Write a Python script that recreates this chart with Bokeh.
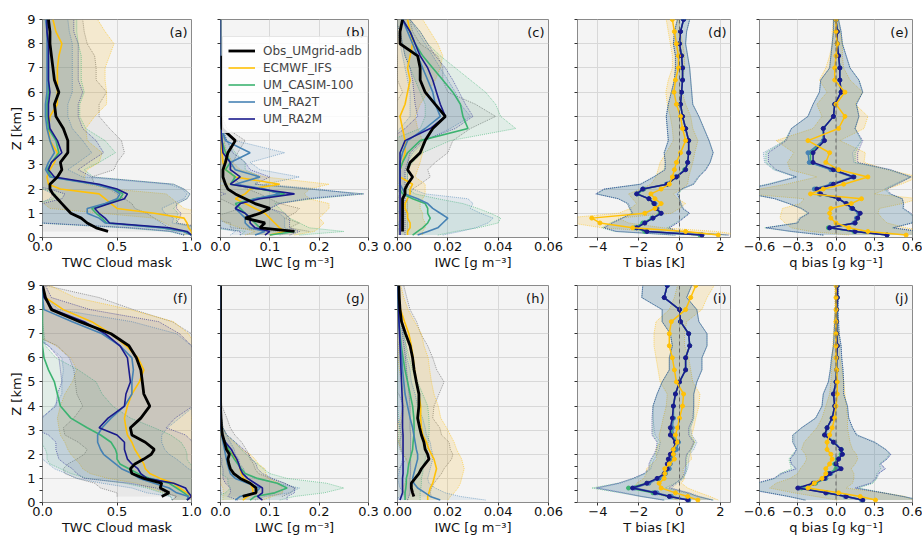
import math
from bokeh.plotting import figure
from bokeh.models import Range1d, FixedTicker, Label, Span, Legend, LegendItem
from bokeh.layouts import column, row
from bokeh.embed import file_html
from bokeh.resources import INLINE

NA = float("nan")

# heights (km)
Z = [0.1, 0.25, 0.4, 0.6, 0.8, 1.0, 1.2, 1.4, 1.6, 1.8, 2.0, 2.2, 2.5, 2.8, 3.1,
     3.5, 4.0, 4.5, 5.0, 5.5, 6.0, 6.5, 7.0, 7.5, 8.0, 8.5, 9.0]

# ---------------- (a) TWC cloud mask, row 1
a_obs = [NA, 0.44, 0.36, 0.30, 0.26, 0.19, 0.16, 0.13, 0.10, 0.07, 0.05, 0.05, 0.10, 0.13, 0.12, 0.17, 0.17, 0.14, 0.09, 0.08, 0.11, 0.08, 0.07, 0.06, 0.05, 0.05, 0.04]
a_obs_sd = [NA, 0.46, 0.49, 0.50, 0.49, 0.51, 0.46, 0.47, 0.45, 0.43, 0.40, 0.30, 0.23, 0.35, 0.38, 0.38, 0.36, 0.31, 0.29, 0.30, 0.32, 0.28, 0.29, 0.29, 0.25, 0.23, 0.23]
a_ifs = [1.0, 1.0, 0.98, 0.97, 0.95, 0.75, 0.5, 0.46, 0.42, 0.38, 0.12, 0.04, 0.03, 0.05, 0.08, 0.1, 0.05, 0.04, 0.05, 0.1, 0.1, 0.1, 0.1, 0.11, 0.13, 0.09, 0.07]
a_ifs_sd = [0.05, 0.05, 0.1, 0.15, 0.2, 0.35, 0.45, 0.45, 0.45, 0.45, 0.35, 0.25, 0.25, 0.25, 0.3, 0.3, 0.25, 0.25, 0.3, 0.33, 0.33, 0.32, 0.32, 0.34, 0.35, 0.33, 0.3]
a_casim = [1.0, 0.95, 0.8, 0.43, 0.4, 0.36, 0.33, 0.44, 0.52, 0.54, 0.48, 0.36, 0.06, 0.03, 0.06, 0.11, 0.09, 0.04, 0.03, 0.03, 0.04, 0.04, 0.04, 0.04, 0.04, 0.03, 0.03]
a_casim_sd = [0.05, 0.1, 0.25, 0.47, 0.5, 0.55, 0.55, 0.47, 0.45, 0.45, 0.47, 0.52, 0.28, 0.25, 0.32, 0.38, 0.33, 0.25, 0.22, 0.22, 0.24, 0.22, 0.22, 0.22, 0.2, 0.2, 0.2]
a_ra2t = [1.0, 0.95, 0.8, 0.42, 0.38, 0.3, 0.3, 0.42, 0.5, 0.52, 0.47, 0.35, 0.05, 0.02, 0.04, 0.08, 0.05, 0.03, 0.02, 0.02, 0.03, 0.03, 0.03, 0.03, 0.03, 0.03, 0.02]
a_ra2t_sd = [0.05, 0.1, 0.25, 0.45, 0.5, 0.52, 0.5, 0.45, 0.45, 0.45, 0.47, 0.5, 0.22, 0.15, 0.2, 0.25, 0.22, 0.17, 0.15, 0.15, 0.17, 0.17, 0.17, 0.17, 0.17, 0.15, 0.15]
a_ra2m = [1.0, 0.97, 0.85, 0.45, 0.42, 0.38, 0.35, 0.45, 0.55, 0.57, 0.5, 0.38, 0.08, 0.04, 0.06, 0.13, 0.1, 0.05, 0.04, 0.04, 0.05, 0.04, 0.04, 0.04, 0.04, 0.03, 0.03]
a_ra2m_sd = [0.05, 0.1, 0.25, 0.45, 0.5, 0.55, 0.55, 0.45, 0.42, 0.42, 0.45, 0.5, 0.25, 0.2, 0.25, 0.28, 0.26, 0.22, 0.2, 0.2, 0.22, 0.2, 0.2, 0.2, 0.2, 0.18, 0.18]

# ---------------- (b) LWC, row 1
b_obs = [NA, 0.15, 0.08, 0.09, 0.05, 0.08, 0.1, 0.07, 0.05, 0.03, 0.015, 0.01, 0.005, 0.005, 0.01, 0.015, 0.03, 0.003, 0.0, 0.0, 0.0, 0.0, 0.0, 0.0, NA, NA, NA]
b_obs_sd = [NA, 0.03, 0.06, 0.07, 0.08, 0.07, 0.06, 0.05, 0.05, 0.05, 0.04, 0.03, 0.02, 0.015, 0.015, 0.02, 0.02, 0.01, 0.002, 0.0, 0.0, 0.0, 0.0, 0.0, NA, NA, NA]
b_ifs = [0.1, 0.13, 0.12, 0.11, 0.1, 0.09, 0.07, 0.05, 0.03, 0.05, 0.06, 0.12, 0.03, 0.01, 0.005, 0.003, 0.002, 0.001, 0.0, 0.0, 0.0, 0.0, 0.0, 0.0, 0.0, 0.0, 0.0]
b_ifs_sd = [0.05, 0.06, 0.08, 0.1, 0.1, 0.12, 0.15, 0.17, 0.15, 0.12, 0.12, 0.1, 0.06, 0.03, 0.02, 0.01, 0.005, 0.003, 0.0, 0.0, 0.0, 0.0, 0.0, 0.0, 0.0, 0.0, 0.0]
b_casim = [0.1, 0.15, 0.08, 0.07, 0.06, 0.05, 0.04, 0.03, 0.07, 0.13, 0.08, 0.02, 0.03, 0.01, 0.02, 0.01, 0.003, 0.001, 0.0, 0.0, 0.0, 0.0, 0.0, 0.0, 0.0, 0.0, 0.0]
b_casim_sd = [0.06, 0.1, 0.1, 0.09, 0.08, 0.08, 0.08, 0.08, 0.12, 0.16, 0.1, 0.05, 0.05, 0.04, 0.03, 0.02, 0.01, 0.003, 0.0, 0.0, 0.0, 0.0, 0.0, 0.0, 0.0, 0.0, 0.0]
b_ra2t = [0.07, 0.09, 0.06, 0.05, 0.05, 0.04, 0.03, 0.04, 0.07, 0.12, 0.09, 0.03, 0.08, 0.03, 0.02, 0.06, 0.01, 0.002, 0.0, 0.0, 0.0, 0.0, 0.0, 0.0, 0.0, 0.0, 0.0]
b_ra2t_sd = [0.05, 0.06, 0.07, 0.08, 0.08, 0.08, 0.07, 0.08, 0.1, 0.15, 0.11, 0.06, 0.08, 0.05, 0.04, 0.07, 0.02, 0.005, 0.0, 0.0, 0.0, 0.0, 0.0, 0.0, 0.0, 0.0, 0.0]
b_ra2m = [0.09, 0.1, 0.07, 0.06, 0.06, 0.05, 0.03, 0.04, 0.08, 0.15, 0.08, 0.02, 0.04, 0.02, 0.02, 0.005, 0.003, 0.001, 0.0, 0.0, 0.0, 0.0, 0.0, 0.0, 0.0, 0.0, 0.0]
b_ra2m_sd = [0.05, 0.06, 0.07, 0.08, 0.08, 0.08, 0.07, 0.08, 0.1, 0.14, 0.1, 0.05, 0.06, 0.04, 0.03, 0.02, 0.01, 0.003, 0.0, 0.0, 0.0, 0.0, 0.0, 0.0, 0.0, 0.0, 0.0]

# ---------------- (c) IWC, row 1
c_obs = [NA, 0.002, 0.002, 0.002, 0.002, 0.002, 0.002, 0.002, 0.002, 0.003, 0.003, 0.004, 0.006, 0.004, 0.005, 0.009, 0.011, 0.014, 0.019, 0.015, 0.011, 0.009, 0.009, 0.008, 0.001, 0.001, 0.002]
c_obs_sd = [NA, 0.002, 0.002, 0.002, 0.002, 0.002, 0.002, 0.002, 0.002, 0.002, 0.003, 0.005, 0.007, 0.008, 0.01, 0.011, 0.011, 0.015, 0.02, 0.016, 0.009, 0.009, 0.009, 0.008, 0.008, 0.005, 0.003]
c_ifs = [0.004, 0.004, 0.005, 0.005, 0.004, 0.004, 0.003, 0.003, 0.004, 0.005, 0.005, 0.006, 0.001, 0.001, 0.002, 0.003, 0.003, 0.002, 0.001, 0.003, 0.004, 0.005, 0.004, 0.005, 0.006, 0.005, 0.004]
c_ifs_sd = [0.006, 0.006, 0.006, 0.006, 0.006, 0.006, 0.006, 0.006, 0.006, 0.006, 0.006, 0.005, 0.006, 0.007, 0.007, 0.007, 0.007, 0.006, 0.006, 0.006, 0.008, 0.01, 0.013, 0.013, 0.01, 0.008, 0.006]
c_casim = [0.006, 0.008, 0.01, 0.012, 0.013, 0.012, 0.012, 0.011, 0.006, 0.002, 0.001, 0.001, 0.001, 0.001, 0.002, 0.004, 0.009, 0.028, 0.026, 0.025, 0.022, 0.018, 0.014, 0.01, 0.007, 0.005, 0.002]
c_casim_sd = [0.01, 0.015, 0.022, 0.028, 0.028, 0.025, 0.02, 0.015, 0.01, 0.005, 0.003, 0.003, 0.003, 0.003, 0.004, 0.006, 0.012, 0.019, 0.015, 0.014, 0.013, 0.011, 0.009, 0.007, 0.005, 0.004, 0.003]
c_ra2t = [0.008, 0.012, 0.016, 0.018, 0.02, 0.017, 0.014, 0.012, 0.008, 0.003, 0.002, 0.001, 0.001, 0.001, 0.001, 0.002, 0.004, 0.011, 0.017, 0.015, 0.014, 0.012, 0.01, 0.008, 0.006, 0.004, 0.002]
c_ra2t_sd = [0.01, 0.013, 0.015, 0.018, 0.018, 0.016, 0.015, 0.018, 0.02, 0.008, 0.004, 0.003, 0.003, 0.003, 0.003, 0.004, 0.007, 0.01, 0.012, 0.01, 0.009, 0.008, 0.007, 0.006, 0.005, 0.004, 0.003]
c_ra2m = [0.001, 0.001, 0.001, 0.001, 0.001, 0.001, 0.001, 0.001, 0.001, 0.001, 0.001, 0.001, 0.001, 0.001, 0.001, 0.001, 0.003, 0.013, 0.019, 0.017, 0.0155, 0.014, 0.012, 0.009, 0.007, 0.005, 0.002]
c_ra2m_sd = [0.002, 0.002, 0.002, 0.002, 0.002, 0.002, 0.002, 0.002, 0.002, 0.002, 0.002, 0.002, 0.002, 0.002, 0.003, 0.004, 0.007, 0.01, 0.011, 0.01, 0.009, 0.008, 0.007, 0.006, 0.005, 0.004, 0.003]

# ---------------- (d) T bias, row 1
d_ifs = [1.9, 0.3, -2.3, -3.9, -4.3, -1.7, -1.2, -0.9, -1.2, -1.4, -0.9, -0.5, -0.35, -0.25, -0.15, 0.05, 0.3, 0.15, 0.05, -0.15, -0.27, -0.2, -0.05, -0.05, -0.15, -0.25, -0.35]
d_ifs_sd = [1.2, 1.5, 1.5, 1.4, 1.3, 1.3, 1.2, 1.2, 1.1, 1.1, 1.0, 0.9, 0.8, 0.8, 0.8, 0.7, 0.6, 0.5, 0.5, 0.45, 0.4, 0.35, 0.3, 0.3, 0.3, 0.3, 0.3]
d_casim = [1.0, -1.7, -2.2, -1.8, -1.35, -0.95, -1.15, -1.25, -1.5, -2.05, -1.75, -0.6, -0.15, 0.25, 0.4, 0.45, 0.45, 0.3, 0.15, 0.05, 0.1, 0.15, 0.15, 0.1, 0.0, 0.05, 0.2]
d_ra2t = [1.1, -1.6, -2.1, -1.7, -1.3, -0.9, -1.1, -1.2, -1.5, -2.1, -1.8, -0.65, -0.2, 0.3, 0.4, 0.45, 0.45, 0.3, 0.15, 0.05, 0.1, 0.15, 0.15, 0.1, 0.0, 0.05, 0.2]
d_ra2m = [1.1, -1.6, -2.1, -1.7, -1.3, -0.9, -1.15, -1.25, -1.5, -2.1, -1.8, -0.6, -0.15, 0.3, 0.4, 0.45, 0.45, 0.3, 0.15, 0.05, 0.1, 0.15, 0.15, 0.1, 0.0, 0.05, 0.2]
d_um_sd = [1.3, 1.5, 1.6, 1.6, 1.5, 1.4, 1.3, 1.3, 1.5, 2.0, 1.9, 1.3, 1.1, 1.0, 1.1, 1.2, 1.0, 0.9, 0.8, 0.6, 0.5, 0.4, 0.35, 0.3, 0.3, 0.3, 0.3]

# ---------------- (e) q bias, row 1
e_ifs = [0.55, 0.25, 0.1, 0.0, -0.04, -0.05, -0.04, 0.12, 0.2, -0.2, -0.1, 0.06, 0.25, 0.02, -0.08, -0.05, -0.22, 0.02, 0.07, 0.0, 0.07, -0.01, -0.01, 0.0, 0.01, 0.0, 0.0]
e_ifs_sd = [0.45, 0.45, 0.45, 0.4, 0.4, 0.38, 0.38, 0.4, 0.45, 0.5, 0.5, 0.45, 0.4, 0.38, 0.3, 0.28, 0.25, 0.2, 0.18, 0.15, 0.14, 0.12, 0.07, 0.05, 0.04, 0.03, 0.02]
e_casim = [0.4, 0.14, -0.06, 0.15, 0.17, 0.18, 0.13, 0.08, 0.02, -0.13, -0.16, -0.03, 0.14, -0.03, -0.2, -0.2, -0.1, -0.1, -0.02, -0.01, 0.04, 0.03, 0.03, 0.02, 0.01, 0.01, 0.0]
e_ra2t = [0.4, 0.15, -0.05, 0.14, 0.16, 0.18, 0.12, 0.08, 0.02, -0.13, -0.17, -0.04, 0.13, -0.04, -0.21, -0.22, -0.1, -0.1, -0.02, -0.01, 0.04, 0.03, 0.03, 0.02, 0.01, 0.01, 0.0]
e_ra2m = [0.4, 0.15, -0.05, 0.15, 0.17, 0.19, 0.13, 0.08, 0.02, -0.12, -0.15, -0.02, 0.14, -0.02, -0.18, -0.18, -0.09, -0.1, -0.02, -0.01, 0.04, 0.03, 0.03, 0.02, 0.01, 0.01, 0.0]
e_um_sd = [0.5, 0.5, 0.5, 0.45, 0.45, 0.4, 0.4, 0.45, 0.5, 0.55, 0.55, 0.5, 0.45, 0.45, 0.35, 0.35, 0.3, 0.25, 0.2, 0.17, 0.17, 0.15, 0.08, 0.06, 0.04, 0.03, 0.02]

# ---------------- (f) TWC cloud mask, row 2
f_obs = [NA, 0.8, 0.85, 0.79, 0.8, 0.68, 0.6, 0.59, 0.62, 0.68, 0.73, 0.75, 0.69, 0.6, 0.59, 0.66, 0.72, 0.68, 0.67, 0.66, 0.63, 0.58, 0.46, 0.25, 0.06, 0.02, 0.0]
f_obs_sd = [NA, 0.3, 0.35, 0.4, 0.45, 0.45, 0.45, 0.45, 0.45, 0.45, 0.45, 0.45, 0.45, 0.45, 0.45, 0.45, 0.45, 0.45, 0.45, 0.45, 0.45, 0.48, 0.54, 0.62, 0.55, 0.36, 0.02]
f_ifs = [0.97, 1.0, 0.97, 0.92, 0.88, 0.79, 0.72, 0.69, 0.68, 0.66, 0.64, 0.62, 0.6, 0.57, 0.56, 0.55, 0.57, 0.6, 0.65, 0.68, 0.64, 0.56, 0.46, 0.33, 0.14, 0.02, 0.0]
f_ifs_sd = [0.1, 0.1, 0.15, 0.2, 0.25, 0.35, 0.4, 0.42, 0.43, 0.44, 0.45, 0.45, 0.45, 0.45, 0.45, 0.45, 0.45, 0.45, 0.45, 0.45, 0.45, 0.47, 0.52, 0.55, 0.45, 0.2, 0.05]
f_casim = [0.97, 0.98, 0.95, 0.9, 0.85, 0.72, 0.64, 0.58, 0.52, 0.5, 0.5, 0.49, 0.46, 0.39, 0.3, 0.19, 0.12, 0.1, 0.08, 0.04, 0.01, 0.0, 0.0, 0.0, 0.0, 0.0, 0.0]
f_casim_sd = [0.1, 0.12, 0.15, 0.2, 0.3, 0.42, 0.45, 0.46, 0.47, 0.47, 0.47, 0.47, 0.47, 0.47, 0.45, 0.4, 0.35, 0.3, 0.28, 0.2, 0.08, 0.02, 0.01, 0.0, 0.0, 0.0, 0.0]
f_ra2t = [0.97, 0.98, 0.9, 0.85, 0.75, 0.65, 0.6, 0.53, 0.49, 0.45, 0.41, 0.39, 0.37, 0.37, 0.4, 0.46, 0.55, 0.6, 0.6, 0.61, 0.6, 0.52, 0.4, 0.2, 0.01, 0.0, 0.0]
f_ra2t_sd = [0.1, 0.12, 0.2, 0.25, 0.35, 0.42, 0.44, 0.45, 0.45, 0.45, 0.44, 0.43, 0.43, 0.43, 0.44, 0.46, 0.47, 0.47, 0.47, 0.47, 0.47, 0.48, 0.5, 0.4, 0.1, 0.02, 0.01]
f_ra2m = [0.97, 1.0, 0.98, 0.96, 0.88, 0.7, 0.66, 0.64, 0.6, 0.57, 0.56, 0.55, 0.55, 0.5, 0.38, 0.44, 0.55, 0.56, 0.59, 0.58, 0.57, 0.52, 0.42, 0.28, 0.07, 0.01, 0.0]
f_ra2m_sd = [0.1, 0.1, 0.15, 0.2, 0.3, 0.42, 0.43, 0.44, 0.45, 0.46, 0.46, 0.46, 0.46, 0.46, 0.45, 0.45, 0.46, 0.46, 0.46, 0.46, 0.46, 0.48, 0.5, 0.5, 0.25, 0.05, 0.02]

# ---------------- (g) LWC, row 2
g_obs = [NA, 0.045, 0.072, 0.072, 0.06, 0.04, 0.027, 0.02, 0.017, 0.015, 0.018, 0.012, 0.008, 0.004, 0.002, 0.001, 0.0, 0.0, 0.0, 0.0, 0.0, 0.0, 0.0, 0.0, 0.0, 0.0, 0.0]
g_obs_sd = [NA, 0.08, 0.07, 0.08, 0.07, 0.06, 0.05, 0.05, 0.05, 0.045, 0.04, 0.04, 0.035, 0.025, 0.018, 0.012, 0.003, 0.0, 0.0, 0.0, 0.0, 0.0, 0.0, 0.0, 0.0, 0.0, 0.0]
g_ifs = [0.045, 0.055, 0.066, 0.065, 0.06, 0.047, 0.042, 0.04, 0.037, 0.03, 0.025, 0.014, 0.007, 0.002, 0.0, 0.0, 0.0, 0.0, 0.0, 0.0, 0.0, 0.0, 0.0, 0.0, 0.0, 0.0, 0.0]
g_ifs_sd = [0.04, 0.05, 0.06, 0.06, 0.06, 0.05, 0.05, 0.05, 0.04, 0.04, 0.035, 0.03, 0.02, 0.01, 0.005, 0.002, 0.0, 0.0, 0.0, 0.0, 0.0, 0.0, 0.0, 0.0, 0.0, 0.0, 0.0]
g_casim = [0.06, 0.07, 0.11, 0.135, 0.115, 0.075, 0.05, 0.042, 0.035, 0.028, 0.022, 0.017, 0.01, 0.003, 0.0, 0.0, 0.0, 0.0, 0.0, 0.0, 0.0, 0.0, 0.0, 0.0, 0.0, 0.0, 0.0]
g_casim_sd = [0.06, 0.08, 0.1, 0.115, 0.1, 0.06, 0.05, 0.045, 0.04, 0.035, 0.03, 0.025, 0.02, 0.01, 0.005, 0.002, 0.0, 0.0, 0.0, 0.0, 0.0, 0.0, 0.0, 0.0, 0.0, 0.0, 0.0]
g_ra2t = [0.03, 0.04, 0.07, 0.08, 0.055, 0.03, 0.02, 0.017, 0.014, 0.012, 0.01, 0.008, 0.005, 0.002, 0.0, 0.0, 0.0, 0.0, 0.0, 0.0, 0.0, 0.0, 0.0, 0.0, 0.0, 0.0, 0.0]
g_ra2t_sd = [0.04, 0.05, 0.07, 0.08, 0.06, 0.04, 0.03, 0.03, 0.025, 0.025, 0.02, 0.02, 0.015, 0.01, 0.005, 0.002, 0.0, 0.0, 0.0, 0.0, 0.0, 0.0, 0.0, 0.0, 0.0, 0.0, 0.0]
g_ra2m = [0.085, 0.075, 0.085, 0.085, 0.07, 0.055, 0.045, 0.04, 0.037, 0.033, 0.027, 0.022, 0.01, 0.003, 0.0, 0.0, 0.0, 0.0, 0.0, 0.0, 0.0, 0.0, 0.0, 0.0, 0.0, 0.0, 0.0]
g_ra2m_sd = [0.05, 0.06, 0.065, 0.065, 0.06, 0.05, 0.04, 0.035, 0.035, 0.03, 0.03, 0.025, 0.02, 0.01, 0.005, 0.002, 0.0, 0.0, 0.0, 0.0, 0.0, 0.0, 0.0, 0.0, 0.0, 0.0, 0.0]

# ---------------- (h) IWC, row 2
h_obs = [NA, 0.0065, 0.006, 0.0055, 0.0055, 0.007, 0.0085, 0.0095, 0.011, 0.0125, 0.012, 0.011, 0.0105, 0.0095, 0.0088, 0.008, 0.0085, 0.0085, 0.0075, 0.0066, 0.006, 0.005, 0.0032, 0.0016, 0.001, 0.0007, 0.0005]
h_obs_sd = [NA, 0.007, 0.007, 0.008, 0.009, 0.009, 0.009, 0.009, 0.009, 0.009, 0.01, 0.01, 0.01, 0.008, 0.008, 0.006, 0.006, 0.008, 0.011, 0.009, 0.008, 0.007, 0.006, 0.006, 0.004, 0.003, 0.002]
h_ifs = [0.012, 0.012, 0.0125, 0.013, 0.014, 0.0145, 0.015, 0.0155, 0.015, 0.0145, 0.0135, 0.0125, 0.0115, 0.01, 0.0095, 0.0092, 0.0092, 0.0085, 0.0075, 0.0068, 0.0062, 0.0055, 0.0045, 0.0028, 0.0012, 0.0005, 0.0003]
h_ifs_sd = [0.008, 0.009, 0.01, 0.011, 0.011, 0.011, 0.011, 0.011, 0.011, 0.011, 0.011, 0.011, 0.011, 0.011, 0.01, 0.008, 0.007, 0.006, 0.006, 0.006, 0.006, 0.005, 0.005, 0.004, 0.003, 0.002, 0.001]
h_casim = [0.003, 0.003, 0.003, 0.0033, 0.0035, 0.0035, 0.004, 0.0042, 0.0045, 0.005, 0.0055, 0.006, 0.0062, 0.0065, 0.0066, 0.0065, 0.006, 0.005, 0.004, 0.003, 0.0022, 0.0015, 0.001, 0.0006, 0.0003, 0.0002, 0.0001]
h_casim_sd = [0.006, 0.006, 0.006, 0.006, 0.006, 0.006, 0.006, 0.006, 0.006, 0.006, 0.006, 0.006, 0.006, 0.006, 0.006, 0.006, 0.006, 0.005, 0.004, 0.003, 0.0025, 0.002, 0.0015, 0.001, 0.0006, 0.0004, 0.0002]
h_ra2t = [0.017, 0.013, 0.011, 0.008, 0.0065, 0.006, 0.0065, 0.007, 0.0075, 0.008, 0.008, 0.0075, 0.007, 0.0065, 0.006, 0.005, 0.004, 0.003, 0.0025, 0.002, 0.0017, 0.0013, 0.0009, 0.0006, 0.0004, 0.0002, 0.0001]
h_ra2t_sd = [0.018, 0.012, 0.008, 0.007, 0.006, 0.006, 0.006, 0.006, 0.006, 0.006, 0.006, 0.006, 0.006, 0.005, 0.005, 0.005, 0.004, 0.004, 0.003, 0.003, 0.002, 0.002, 0.0015, 0.001, 0.0008, 0.0005, 0.0003]
h_ra2m = [0.001, 0.0015, 0.002, 0.002, 0.002, 0.002, 0.0022, 0.0022, 0.0022, 0.0022, 0.0022, 0.0022, 0.0022, 0.0022, 0.002, 0.002, 0.002, 0.0018, 0.0016, 0.0014, 0.0012, 0.001, 0.0008, 0.0006, 0.0004, 0.0002, 0.0001]
h_ra2m_sd = [0.003, 0.003, 0.003, 0.003, 0.003, 0.003, 0.003, 0.003, 0.003, 0.003, 0.003, 0.003, 0.003, 0.003, 0.003, 0.003, 0.003, 0.0028, 0.0025, 0.0022, 0.002, 0.0016, 0.0012, 0.001, 0.0007, 0.0004, 0.0002]

# ---------------- (i) T bias, row 2
i_ifs = [0.9, 0.4, -0.2, -0.9, -1.0, -0.75, -0.72, -0.72, -0.5, -0.25, -0.3, -0.3, -0.1, -0.2, -0.1, 0.0, 0.15, 0.2, -0.15, -0.25, -0.35, -0.5, -0.5, -0.4, 0.3, 0.55, 0.8]
i_ifs_sd = [1.0, 1.1, 1.2, 1.3, 1.1, 1.0, 0.9, 0.9, 0.85, 0.85, 0.85, 0.85, 0.85, 0.8, 0.8, 0.8, 0.8, 0.8, 0.8, 0.8, 0.8, 0.75, 0.75, 0.75, 0.8, 0.8, 0.9]
i_casim = [0.45, -0.5, -1.3, -2.5, -1.6, -1.05, -0.7, -0.55, -0.55, -0.5, -0.4, -0.25, -0.15, -0.4, -0.4, -0.3, -0.3, -0.2, 0.0, 0.3, 0.3, 0.5, 0.45, 0.05, 0.0, -0.75, -0.6]
i_ra2t = [0.45, -0.4, -1.1, -2.2, -1.5, -1.0, -0.7, -0.5, -0.45, -0.4, -0.3, -0.15, -0.05, -0.3, -0.35, -0.3, -0.3, -0.2, 0.0, 0.3, 0.3, 0.5, 0.45, 0.05, 0.0, -0.75, -0.6]
i_ra2m = [0.4, -0.5, -1.2, -2.3, -1.6, -1.1, -0.75, -0.6, -0.6, -0.55, -0.45, -0.3, -0.2, -0.45, -0.45, -0.35, -0.3, -0.2, 0.0, 0.3, 0.3, 0.5, 0.45, 0.05, 0.0, -0.75, -0.6]
i_um_sd = [1.2, 1.4, 1.6, 1.8, 1.4, 1.2, 1.0, 0.9, 0.9, 0.85, 0.8, 0.85, 0.9, 0.9, 0.9, 1.0, 1.0, 0.9, 0.85, 0.8, 0.8, 0.85, 0.9, 0.9, 0.85, 1.1, 1.2]

# ---------------- (j) q bias, row 2
j_ifs = [0.31, 0.19, 0.02, -0.22, -0.17, -0.11, -0.08, -0.08, -0.05, -0.03, -0.04, -0.07, -0.07, -0.05, -0.03, -0.01, 0.0, 0.01, 0.01, 0.005, 0.0, 0.0, 0.0, 0.0, 0.0, 0.0, 0.0]
j_ifs_sd = [0.3, 0.35, 0.35, 0.3, 0.3, 0.25, 0.22, 0.2, 0.2, 0.2, 0.2, 0.2, 0.18, 0.15, 0.12, 0.1, 0.08, 0.06, 0.05, 0.04, 0.03, 0.025, 0.02, 0.015, 0.01, 0.01, 0.01]
j_casim = [0.21, 0.08, -0.07, -0.27, -0.16, -0.08, -0.06, 0.0, -0.01, 0.01, 0.04, 0.04, -0.02, -0.09, -0.07, -0.03, -0.01, -0.02, 0.0, 0.005, 0.005, 0.01, 0.005, 0.005, 0.005, 0.01, 0.01]
j_ra2t = [0.2, 0.07, -0.08, -0.29, -0.17, -0.08, -0.04, 0.03, 0.0, 0.02, 0.05, 0.04, -0.01, -0.08, -0.07, -0.03, -0.01, -0.02, 0.0, 0.005, 0.005, 0.01, 0.005, 0.005, 0.005, 0.01, 0.01]
j_ra2m = [0.21, 0.08, -0.08, -0.3, -0.18, -0.09, -0.05, 0.04, 0.0, 0.02, 0.05, 0.04, -0.02, -0.09, -0.07, -0.03, -0.01, -0.02, 0.0, 0.005, 0.005, 0.01, 0.005, 0.005, 0.005, 0.01, 0.01]
j_um_sd = [0.45, 0.45, 0.45, 0.45, 0.45, 0.4, 0.38, 0.35, 0.35, 0.38, 0.38, 0.35, 0.32, 0.25, 0.2, 0.13, 0.1, 0.08, 0.06, 0.05, 0.04, 0.03, 0.02, 0.015, 0.01, 0.01, 0.01]

# axis settings
X_RANGES = {"cloud": (0, 1), "lwc": (0, 0.3), "iwc": (0, 0.06), "t": (-5, 2.5), "q": (-0.6, 0.6)}
X_TICKS = {"cloud": [0, 0.5, 1], "lwc": [0, 0.1, 0.2, 0.3], "iwc": [0, 0.02, 0.04, 0.06],
           "t": [-4, -2, 0, 2], "q": [-0.6, -0.3, 0, 0.3, 0.6]}
X_TICK_LABELS = {"cloud": ["0.0", "0.5", "1.0"], "lwc": ["0.0", "0.1", "0.2", "0.3"],
                 "iwc": ["0.00", "0.02", "0.04", "0.06"], "t": ["\u22124", "\u22122", "0", "2"],
                 "q": ["\u22120.6", "\u22120.3", "0.0", "0.3", "0.6"]}
X_LABELS = {"cloud": "TWC Cloud mask", "lwc": "LWC [g m\u207b\u00b3]", "iwc": "IWC [g m\u207b\u00b3]",
            "t": "T bias [K]", "q": "q bias [g kg\u207b\u00b9]"}
Y_TICKS = [0, 1, 2, 3, 4, 5, 6, 7, 8, 9]
Y_MINOR = [0.5, 1.5]

NAMES = {"obs": "Obs_UMgrid-adb", "ifs": "ECMWF_IFS", "casim": "UM_CASIM-100", "ra2t": "UM_RA2T", "ra2m": "UM_RA2M"}
COLORS = {"obs": "#000000", "ifs": "#FFC107", "casim": "#3CB371", "ra2t": "#4682B4", "ra2m": "#1A1A8C"}
FILLS = {"obs": "#8a8a8a", "ifs": "#F5B000", "casim": "#3CB371", "ra2t": "#4682B4", "ra2m": "#1A1A8C"}
FILL_ALPHA = {"obs": 0.11, "ifs": 0.15, "casim": 0.1, "ra2t": 0.1, "ra2m": 0.08}

PANELS = [
    ("a", "cloud", [("obs", a_obs, a_obs_sd), ("ifs", a_ifs, a_ifs_sd), ("casim", a_casim, a_casim_sd), ("ra2t", a_ra2t, a_ra2t_sd), ("ra2m", a_ra2m, a_ra2m_sd)]),
    ("b", "lwc", [("obs", b_obs, b_obs_sd), ("ifs", b_ifs, b_ifs_sd), ("casim", b_casim, b_casim_sd), ("ra2t", b_ra2t, b_ra2t_sd), ("ra2m", b_ra2m, b_ra2m_sd)]),
    ("c", "iwc", [("obs", c_obs, c_obs_sd), ("ifs", c_ifs, c_ifs_sd), ("casim", c_casim, c_casim_sd), ("ra2t", c_ra2t, c_ra2t_sd), ("ra2m", c_ra2m, c_ra2m_sd)]),
    ("d", "t", [("ifs", d_ifs, d_ifs_sd), ("casim", d_casim, d_um_sd), ("ra2t", d_ra2t, d_um_sd), ("ra2m", d_ra2m, d_um_sd)]),
    ("e", "q", [("ifs", e_ifs, e_ifs_sd), ("casim", e_casim, e_um_sd), ("ra2t", e_ra2t, e_um_sd), ("ra2m", e_ra2m, e_um_sd)]),
    ("f", "cloud", [("obs", f_obs, f_obs_sd), ("ifs", f_ifs, f_ifs_sd), ("casim", f_casim, f_casim_sd), ("ra2t", f_ra2t, f_ra2t_sd), ("ra2m", f_ra2m, f_ra2m_sd)]),
    ("g", "lwc", [("obs", g_obs, g_obs_sd), ("ifs", g_ifs, g_ifs_sd), ("casim", g_casim, g_casim_sd), ("ra2t", g_ra2t, g_ra2t_sd), ("ra2m", g_ra2m, g_ra2m_sd)]),
    ("h", "iwc", [("obs", h_obs, h_obs_sd), ("ifs", h_ifs, h_ifs_sd), ("casim", h_casim, h_casim_sd), ("ra2t", h_ra2t, h_ra2t_sd), ("ra2m", h_ra2m, h_ra2m_sd)]),
    ("i", "t", [("ifs", i_ifs, i_ifs_sd), ("casim", i_casim, i_um_sd), ("ra2t", i_ra2t, i_um_sd), ("ra2m", i_ra2m, i_um_sd)]),
    ("j", "q", [("ifs", j_ifs, j_ifs_sd), ("casim", j_casim, j_um_sd), ("ra2t", j_ra2t, j_um_sd), ("ra2m", j_ra2m, j_um_sd)]),
]

# layout (pixels)
FRAME_W = [149, 148, 151, 153, 153]
BORDER_L = [42, 17, 17, 14, 18]
BORDER_R = [12, 12, 15, 11, 10]
ROW_GEOM = [(19, 218, 40), (8, 217, 35)]  # top border, frame height, bottom border

FONT = "DejaVu Sans"


def band(p, key, mean, sd):
    zz, lo, hi = [], [], []
    for z, m, s in zip(Z, mean, sd):
        if math.isnan(m):
            continue
        zz.append(z)
        lo.append(m - s)
        hi.append(m + s)
    p.harea(x1=lo, x2=hi, y=zz, fill_color=FILLS[key], fill_alpha=FILL_ALPHA[key])
    edge = "#555555" if key == "obs" else COLORS[key]
    for xs in (lo, hi):
        p.line(xs, zz, line_color=edge, line_width=0.8, line_dash="1 1", line_alpha=0.7)


def make_panel(idx, letter, kind, series):
    col = idx % 5
    r = idx // 5
    top, fh, bottom = ROW_GEOM[r]
    xr = X_RANGES[kind]
    p = figure(frame_width=FRAME_W[col], frame_height=fh,
               x_range=Range1d(*xr), y_range=Range1d(0, 9),
               output_backend="svg", toolbar_location=None,
               min_border_left=BORDER_L[col], min_border_right=BORDER_R[col],
               min_border_top=top, min_border_bottom=bottom)
    p.background_fill_color = "#f4f4f4"
    p.border_fill_color = "white"
    p.outline_line_color = "#8a8a8a"
    p.outline_line_width = 1
    p.grid.grid_line_color = "#d8d8d8"
    p.grid.grid_line_width = 1

    # x axis
    p.xaxis.ticker = FixedTicker(ticks=X_TICKS[kind])
    p.xaxis.major_label_overrides = {t: s for t, s in zip(X_TICKS[kind], X_TICK_LABELS[kind])}
    p.xaxis.axis_label = X_LABELS[kind]
    # y axis
    p.yaxis.ticker = FixedTicker(ticks=Y_TICKS, minor_ticks=Y_MINOR)
    if col == 0:
        p.yaxis.axis_label = "Z [km]"
    else:
        p.yaxis.major_label_overrides = {t: "" for t in Y_TICKS}
    for ax in (p.xaxis[0], p.yaxis[0]):
        ax.axis_line_color = None
        ax.major_tick_line_color = "#333333"
        ax.major_tick_out = 3
        ax.major_tick_in = 0
        ax.major_label_text_font = FONT
        ax.major_label_text_font_size = "13px"
        ax.major_label_text_color = "#111111"
        ax.axis_label_text_font = FONT
        ax.axis_label_text_font_size = "13px"
        ax.axis_label_text_font_style = "normal"
        ax.axis_label_text_color = "#111111"
    p.xaxis.minor_tick_line_color = None
    p.xaxis.major_label_standoff = 1
    p.xaxis.axis_label_standoff = 1
    p.yaxis.minor_tick_line_color = "#333333"
    p.yaxis.minor_tick_out = 3
    p.yaxis.minor_tick_in = 0
    p.yaxis.major_label_standoff = 4
    p.yaxis.axis_label_standoff = 0

    lines = {}
    if kind in ("t", "q"):
        for key, mean, sd in series:
            band(p, key, mean, sd)
        p.add_layout(Span(location=0, dimension="height", line_color="#666666",
                          line_dash="4 3", line_width=1))
        for key, mean, sd in series[1:] + series[:1]:
            lines[key] = p.line(mean, Z, line_color=COLORS[key], line_width=1.5)
            p.scatter(mean, Z, size=4, fill_color=COLORS[key], line_color=COLORS[key])
    else:
        for key, mean, sd in series:
            band(p, key, mean, sd)
        for key, mean, sd in series[1:] + series[:1]:
            lw = 2.8 if key == "obs" else 1.6
            lines[key] = p.line(mean, Z, line_color=COLORS[key], line_width=lw)

    p.add_layout(Label(x=xr[1], y=9, x_offset=-4, y_offset=-5, text="(%s)" % letter,
                       text_align="right", text_baseline="top", text_font=FONT,
                       text_font_size="13px", text_color="#111111"))

    if letter == "b":
        items = [LegendItem(label=NAMES[k], renderers=[lines[k]]) for k in ["obs", "ifs", "casim", "ra2t", "ra2m"]]
        lg = Legend(items=items, location=(2, 104))
        lg.label_text_font = FONT
        lg.label_text_font_size = "12px"
        lg.glyph_width = 27
        lg.glyph_height = 17
        lg.label_height = 17
        lg.label_standoff = 8
        lg.spacing = 0
        lg.padding = 5
        lg.margin = 0
        lg.border_line_color = "#cccccc"
        lg.background_fill_color = "white"
        lg.background_fill_alpha = 0.85
        p.add_layout(lg)
    return p


figs = [make_panel(i, letter, kind, series) for i, (letter, kind, series) in enumerate(PANELS)]
layout = column(row(*figs[:5]), row(*figs[5:]))
open("out.html", "w").write(file_html(layout, INLINE))
